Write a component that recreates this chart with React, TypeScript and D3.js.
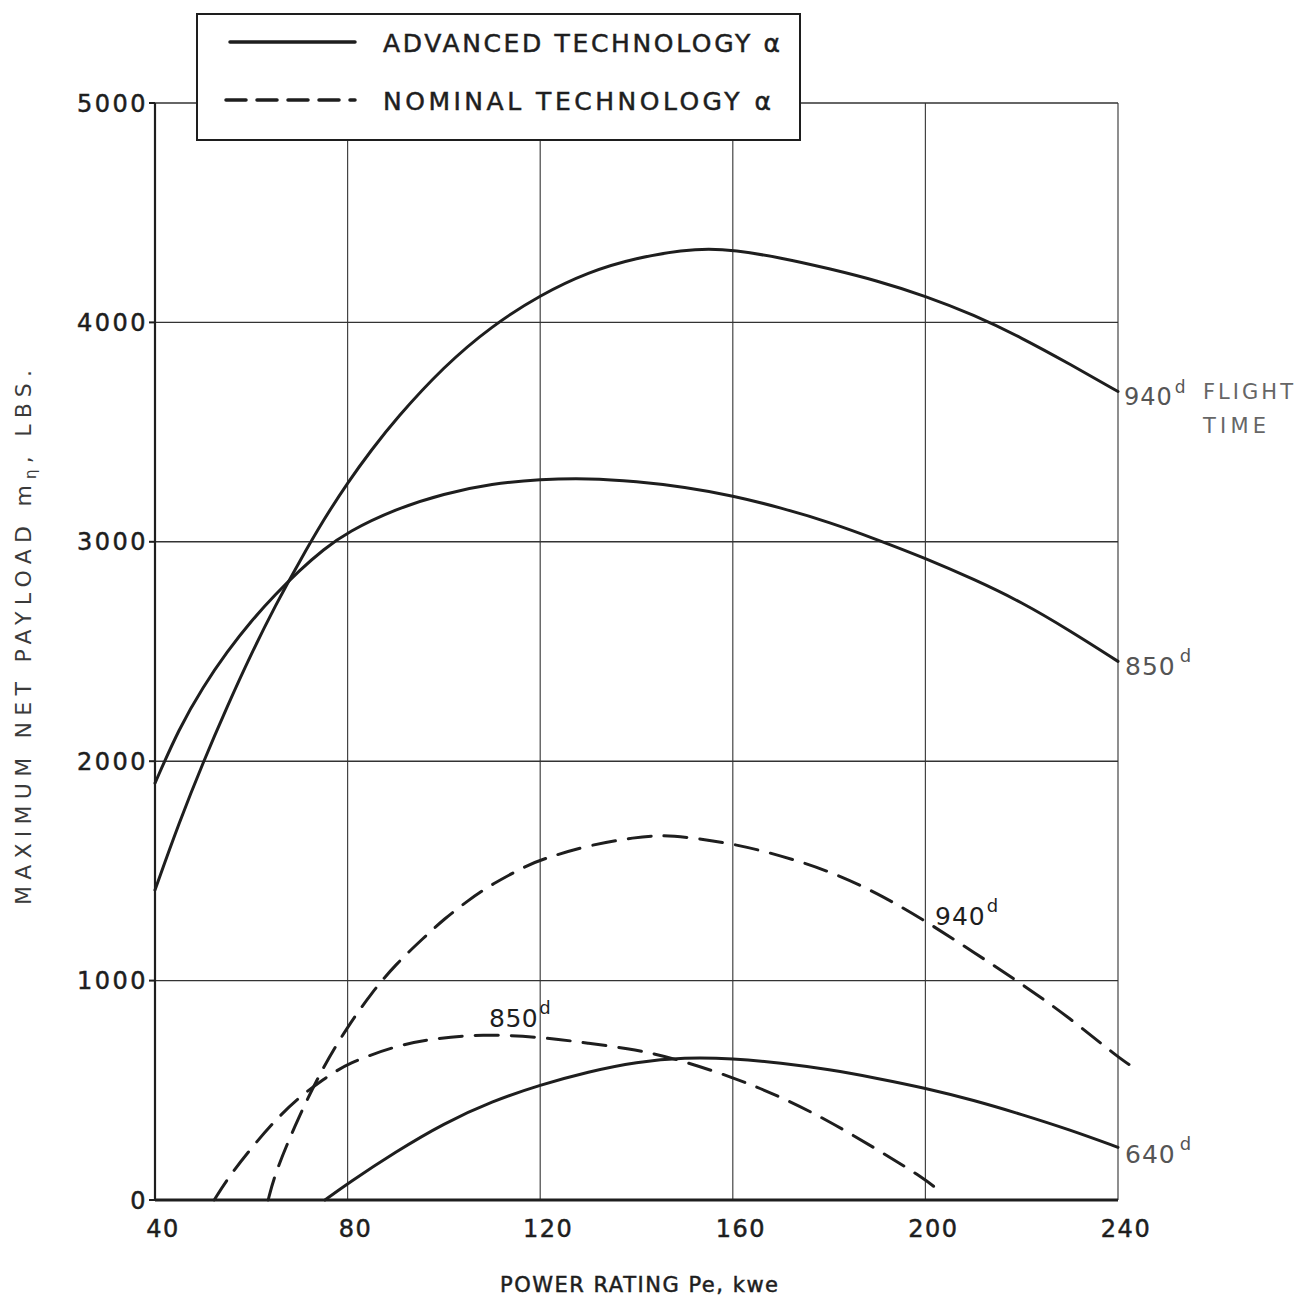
import React from "react";
import * as d3 from "d3";

// x ticks (kwe) and y ticks (lbs)
const xTicks = [40, 80, 120, 160, 200, 240];
const yTicks = [0, 1000, 2000, 3000, 4000, 5000];

// advanced technology, solid
const adv940x = [40, 45, 50, 55, 60, 65, 70, 75, 80, 85, 90, 100, 110, 120, 130, 140, 150, 155, 160, 170, 180, 190, 200, 210, 220, 230, 240];
const adv940y = [1413, 1720, 1995, 2250, 2490, 2710, 2910, 3100, 3270, 3420, 3560, 3800, 3985, 4125, 4230, 4295, 4330, 4335, 4330, 4295, 4245, 4190, 4120, 4035, 3930, 3810, 3685];

const adv850x = [40, 45, 50, 55, 60, 65, 70, 75, 80, 90, 100, 110, 120, 130, 140, 150, 160, 170, 180, 190, 200, 210, 220, 230, 240];
const adv850y = [1900, 2150, 2340, 2500, 2640, 2760, 2870, 2965, 3045, 3150, 3220, 3265, 3285, 3290, 3275, 3250, 3210, 3155, 3090, 3010, 2925, 2830, 2725, 2595, 2455];

const adv640x = [75.3, 80, 90, 100, 110, 120, 130, 140, 150, 160, 170, 180, 190, 200, 210, 220, 230, 240];
const adv640y = [0, 75, 220, 350, 450, 525, 585, 630, 650, 645, 625, 595, 555, 510, 455, 390, 320, 240];

// nominal technology, dashed
const nom940x = [63.5, 65, 70, 75, 80, 85, 90, 96, 100, 105, 110, 117, 120, 130, 140, 145, 150, 160, 170, 180, 190, 200, 210, 220, 230, 240, 243.5];
const nom940y = [0, 128, 387, 610, 790, 945, 1075, 1199, 1280, 1365, 1440, 1522, 1550, 1618, 1654, 1662, 1656, 1625, 1570, 1500, 1400, 1272, 1130, 985, 830, 650, 600];

const nom850x = [52.3, 55, 60, 65, 70, 75, 80, 90, 97, 108, 120, 130, 140, 148, 160, 170, 180, 190, 200, 203.5];
const nom850y = [0, 96, 237, 365, 470, 550, 624, 702, 734, 757, 743, 715, 685, 645, 560, 470, 360, 230, 95, 30];

const x = d3.scaleLinear().domain([40, 240]).range([155, 1118]);
const y = d3.scaleLinear().domain([0, 5000]).range([1200, 103]);

const line = d3
  .line<[number, number]>()
  .x((d) => x(d[0]))
  .y((d) => y(d[1]))
  .curve(d3.curveBasis);

const zip = (a: number[], b: number[]) => a.map((v, i) => [v, b[i]] as [number, number]);

const curves = [
  { xs: adv940x, ys: adv940y, dash: null },
  { xs: adv850x, ys: adv850y, dash: null },
  { xs: adv640x, ys: adv640y, dash: null },
  { xs: nom940x, ys: nom940y, dash: "23 13" },
  { xs: nom850x, ys: nom850y, dash: "23 13" },
];

const ink = "#1e1e1e";
const font = "'DejaVu Sans', sans-serif";
const heavy = { stroke: ink, strokeWidth: 0.5 };

export default function App() {
  const [x0, x1] = x.range();
  const [yb, yt] = y.range();
  return (
    <svg
      width={1308}
      height={1300}
      style={{ position: "absolute", left: 0, top: 0, background: "#fff" }}
      fontFamily={font}
    >
      {/* grid */}
      {xTicks.map((t) => (
        <line key={"gx" + t} x1={x(t)} x2={x(t)} y1={yt} y2={yb} stroke="#444" strokeWidth={1.2} />
      ))}
      {yTicks.map((t) => (
        <line key={"gy" + t} x1={x0} x2={x1} y1={y(t)} y2={y(t)} stroke="#333" strokeWidth={1.4} />
      ))}
      {/* axes */}
      <line x1={x0} x2={x0} y1={yt} y2={yb} stroke={ink} strokeWidth={2.2} />
      <line x1={x0} x2={x1} y1={yb} y2={yb} stroke={ink} strokeWidth={3} />
      {yTicks.map((t) => (
        <line key={"ty" + t} x1={x0 - 6} x2={x0} y1={y(t)} y2={y(t)} stroke={ink} strokeWidth={2} />
      ))}

      {/* curves */}
      {curves.map((c, i) => (
        <path
          key={i}
          d={line(zip(c.xs, c.ys)) || ""}
          fill="none"
          stroke={ink}
          strokeWidth={3}
          strokeLinecap="round"
          strokeDasharray={c.dash || undefined}
        />
      ))}

      {/* tick labels */}
      {yTicks.map((t) => (
        <text key={"ly" + t} x={x0 - 7} y={y(t)} dy="0.36em" textAnchor="end" fontSize={24} fill={ink} letterSpacing={2.5} {...heavy}>
          {t}
        </text>
      ))}
      {xTicks.map((t) => (
        <text key={"lx" + t} x={x(t) + 8} y={yb + 37} textAnchor="middle" fontSize={24} fill={ink} letterSpacing={1.5} {...heavy}>
          {t}
        </text>
      ))}

      {/* axis titles */}
      <text x={500} y={1292} textLength={278} lengthAdjust="spacing" fontSize={21} fill={ink} {...heavy}>
        POWER RATING Pe, kwe
      </text>
      <text
        transform={`translate(31, 905) rotate(-90)`}
        textLength={535}
        lengthAdjust="spacing"
        fontSize={22}
        fill="#3a3a3a"
      >
        MAXIMUM NET PAYLOAD m<tspan fontSize={15} dy={5}>η</tspan>
        <tspan dy={-5}>, LBS.</tspan>
      </text>

      {/* curve labels */}
      <text x={1124} y={405} fontSize={24} fill="#555" letterSpacing={1}>
        940<tspan fontSize={17} dy={-12} dx={2}>d</tspan>
      </text>
      <text x={1203} y={399} textLength={90} lengthAdjust="spacing" fontSize={21} fill="#666">FLIGHT</text>
      <text x={1203} y={433} textLength={63} lengthAdjust="spacing" fontSize={21} fill="#666">TIME</text>
      <text x={1125} y={675} fontSize={25} fill="#555" letterSpacing={1}>
        850<tspan fontSize={18} dy={-13} dx={4}>d</tspan>
      </text>
      <text x={1125} y={1163} fontSize={25} fill="#555" letterSpacing={1}>
        640<tspan fontSize={18} dy={-13} dx={4}>d</tspan>
      </text>
      <text x={935} y={925} fontSize={25} fill={ink} letterSpacing={1}>
        940<tspan fontSize={18} dy={-13} dx={1}>d</tspan>
      </text>
      <text x={489} y={1027} fontSize={25} fill={ink} letterSpacing={0.5}>
        850<tspan fontSize={18} dy={-13} dx={1}>d</tspan>
      </text>

      {/* legend */}
      <rect x={197} y={14} width={603} height={126} fill="#fff" stroke={ink} strokeWidth={2} />
      <line x1={230} x2={355} y1={42} y2={42} stroke={ink} strokeWidth={3.5} strokeLinecap="round" />
      <line x1={226} x2={355} y1={100} y2={100} stroke={ink} strokeWidth={3.5} strokeLinecap="round" strokeDasharray="20 11" />
      <text x={383} y={52} textLength={397} lengthAdjust="spacing" fontSize={25} fill={ink} {...heavy}>ADVANCED TECHNOLOGY α</text>
      <text x={383} y={110} textLength={388} lengthAdjust="spacing" fontSize={25} fill={ink} {...heavy}>NOMINAL TECHNOLOGY α</text>
    </svg>
  );
}
